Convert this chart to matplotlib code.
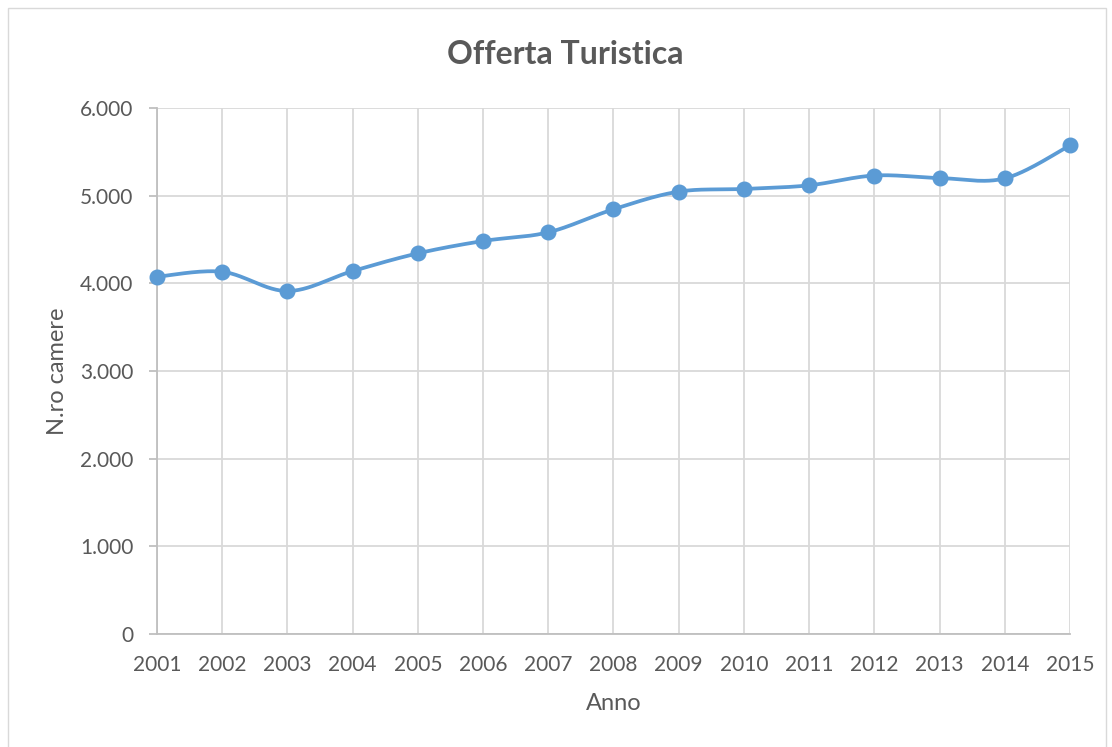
import matplotlib
matplotlib.use("Agg")
import matplotlib.pyplot as plt
import numpy as np
from matplotlib.ticker import FuncFormatter, FixedLocator
from matplotlib.patches import Rectangle

years = [2001, 2002, 2003, 2004, 2005, 2006, 2007, 2008, 2009, 2010, 2011, 2012, 2013, 2014, 2015]
camere = [4075, 4132, 3912, 4140, 4342, 4483, 4582, 4845, 5046, 5076, 5118, 5230, 5201, 5197, 5573]
title = "Offerta Turistica"
xlabel = "Anno"
ylabel = "N.ro camere"
yticks = [0, 1000, 2000, 3000, 4000, 5000, 6000]

LINE = "#5B9BD5"
GRID = "#D9D9D9"
TXT = "#595959"
plt.rcParams['font.family'] = ['Lato', 'DejaVu Sans']


def smooth(xs, ys, n=30):
    # Excel-like smoothed line: cubic Bezier with Catmull-Rom control points
    xs = np.asarray(xs, float); ys = np.asarray(ys, float)
    px, py = [], []
    m = len(xs)
    for i in range(m - 1):
        p0 = np.array([xs[max(i - 1, 0)], ys[max(i - 1, 0)]])
        p1 = np.array([xs[i], ys[i]])
        p2 = np.array([xs[i + 1], ys[i + 1]])
        p3 = np.array([xs[min(i + 2, m - 1)], ys[min(i + 2, m - 1)]])
        c1 = p1 + (p2 - p0) / 6.0
        c2 = p2 - (p3 - p1) / 6.0
        t = np.linspace(0, 1, n)[:, None]
        b = ((1 - t) ** 3) * p1 + 3 * ((1 - t) ** 2) * t * c1 + 3 * (1 - t) * t ** 2 * c2 + t ** 3 * p2
        px.extend(b[:, 0]); py.extend(b[:, 1])
    return px, py


W, H = 1112, 747
fig = plt.figure(figsize=(W / 100, H / 100), dpi=100)
ax = fig.add_axes([157 / W, 1 - 634 / H, (1070 - 157) / W, (634 - 108) / H])

fig.patches.append(Rectangle((8 / W, -0.01), (1106 - 8) / W, 1 - 8 / H + 0.01,
                             transform=fig.transFigure, fill=False, edgecolor=GRID, linewidth=1.0))

sx, sy = smooth(years, camere)
ax.plot(sx, sy, color=LINE, linewidth=2.7, solid_capstyle='round', zorder=3, clip_on=False)
ax.plot(years, camere, linestyle='none', marker='o', markersize=10.5, color=LINE, zorder=4,
        clip_on=False)

ax.set_xlim(years[0], years[-1])
ax.set_ylim(0, 6000)
ax.xaxis.set_major_locator(FixedLocator(years))
ax.set_yticks(yticks)
ax.yaxis.set_major_formatter(FuncFormatter(lambda v, p: f"{int(v):,}".replace(",", ".")))

ax.grid(True, color=GRID, linewidth=1.3)
ax.set_axisbelow(True)
for s in ['top', 'right']:
    ax.spines[s].set_visible(False)
for s in ['left', 'bottom']:
    ax.spines[s].set_color('#BFBFBF')
    ax.spines[s].set_linewidth(1.3)

ax.tick_params(axis='y', length=6, color='#BFBFBF', width=1.3, labelsize=15, labelcolor=TXT, pad=11)
ax.tick_params(axis='x', length=0, labelsize=15, labelcolor=TXT, pad=15)

fig.text(565 / W, 1 - 54 / H, title, fontsize=23, fontweight='bold', color=TXT,
         ha='center', va='center')
ax.set_xlabel(xlabel, fontsize=17, color=TXT, va='center')
ax.set_ylabel(ylabel, fontsize=17, color=TXT, va='center', ha='center')
ax.xaxis.set_label_coords(0.5, (634 - 704) / 526)
ax.yaxis.set_label_coords((58 - 157) / 913, 0.5)

fig.savefig("out.png", dpi=100)
